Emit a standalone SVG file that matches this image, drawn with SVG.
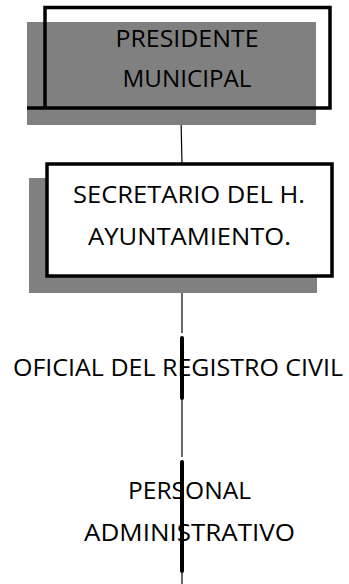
<svg xmlns="http://www.w3.org/2000/svg" width="349" height="584" viewBox="0 0 349 584">
<style>
.shadow{fill:#808080}
.box{stroke:#000;stroke-width:3.5}
.t{font-family:"Open Sans","Liberation Sans",sans-serif;font-size:23.5px;fill:#000;text-anchor:middle}
.thin{stroke:#000;stroke-width:1.2;fill:none}
.thick{stroke:#000;stroke-width:4;stroke-linecap:round;fill:none}
</style>
<rect width="349" height="584" fill="#fff"/>
<g id="connectors">
<line class="thin" x1="181" y1="118" x2="182" y2="164"/>
<line class="thin" x1="182" y1="282" x2="182" y2="333"/>
<line class="thin" x1="182" y1="399" x2="182" y2="457"/>
<line class="thin" x1="182" y1="572" x2="182" y2="584"/>
</g>
<g id="presidente">
<rect class="shadow" x="27" y="22" width="289" height="103"/>
<path class="box" d="M45 108 V7.5 H330 V108 H27" fill="none"/>
<text class="t" x="187" y="47" textLength="143" lengthAdjust="spacingAndGlyphs">PRESIDENTE</text>
<text class="t" x="187" y="87" textLength="129" lengthAdjust="spacingAndGlyphs">MUNICIPAL</text>
</g>
<g id="secretario">
<rect class="shadow" x="29" y="178" width="288" height="115"/>
<rect class="box" x="47" y="164" width="285" height="112" fill="#fff"/>
<text class="t" x="189" y="203" textLength="232" lengthAdjust="spacingAndGlyphs">SECRETARIO DEL H.</text>
<text class="t" x="189.5" y="245" textLength="203" lengthAdjust="spacingAndGlyphs">AYUNTAMIENTO.</text>
</g>
<g id="oficial">
<text class="t" x="178" y="376" textLength="330" lengthAdjust="spacingAndGlyphs">OFICIAL DEL REGISTRO CIVIL</text>
<line class="thick" x1="182" y1="338" x2="182" y2="398"/>
</g>
<g id="personal">
<text class="t" x="189.5" y="499" textLength="123" lengthAdjust="spacingAndGlyphs">PERSONAL</text>
<text class="t" x="189.5" y="541" textLength="211" lengthAdjust="spacingAndGlyphs">ADMINISTRATIVO</text>
<line class="thick" x1="182" y1="462" x2="182" y2="571"/>
</g>
</svg>
